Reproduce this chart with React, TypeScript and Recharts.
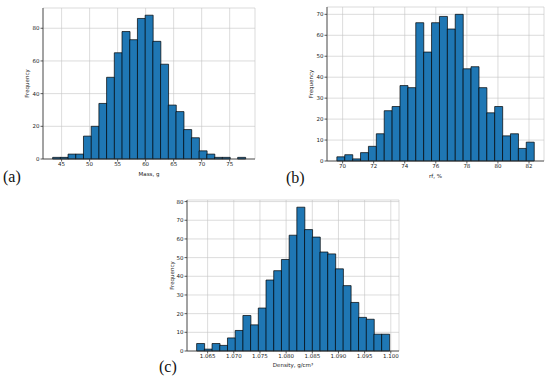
import { Bar, BarChart, CartesianGrid, Label, XAxis, YAxis } from "recharts";

// (a) mass histogram
const massStart = 43.4;
const massBin = 1.376;
const massCounts = [1, 1, 3, 3, 14, 20, 34, 50, 65, 78, 73, 86, 88, 72, 58, 33, 29, 18, 13, 5, 3, 1, 1, 0, 1];
const massTicks = [45, 50, 55, 60, 65, 70, 75];
const massYTicks = [0, 20, 40, 60, 80];

// (b) rf histogram
const rfStart = 69.63;
const rfBin = 0.508;
const rfCounts = [2, 3, 1, 4, 7, 13, 24, 26, 36, 35, 66, 52, 66, 69, 63, 70, 44, 45, 35, 23, 26, 12, 13, 6, 9];
const rfTicks = [70, 72, 74, 76, 78, 80, 82];
const rfYTicks = [0, 10, 20, 30, 40, 50, 60, 70];

// (c) density histogram
const denStart = 1.0629;
const denBin = 0.001473;
const denCounts = [4, 1, 4, 3, 7, 11, 19, 14, 23, 38, 43, 49, 62, 77, 65, 61, 53, 52, 44, 35, 26, 18, 17, 9, 9];
const denTicks = [1.065, 1.07, 1.075, 1.08, 1.085, 1.09, 1.095, 1.1];
const denYTicks = [0, 10, 20, 30, 40, 50, 60, 70, 80];

const font = "'DejaVu Sans', sans-serif";
const tickStyle = { fill: "#222", fontSize: 5.5, fontFamily: font };
const labelStyle = { fill: "#222", fontSize: 5.5, fontFamily: font, textAnchor: "middle" as const };
const frame = "#333";

function bins(start: number, width: number, counts: number[]) {
  return counts.map((count, i) => ({ x: start + (i + 0.5) * width, count }));
}

type HistProps = {
  left: number;
  top: number;
  width: number;
  height: number;
  margin: { top: number; right: number; bottom: number; left: number };
  yWidth: number;
  xHeight: number;
  start: number;
  bin: number;
  counts: number[];
  xTicks: number[];
  yTicks: number[];
  yMax: number;
  xLabel: string;
  yLabelOffset: number;
  xLabelOffset: number;
  fmt?: (v: number) => string;
};

function Histogram(p: HistProps) {
  const data = bins(p.start, p.bin, p.counts);
  const span = p.bin * p.counts.length;
  const pad = span * 0.05;
  const domain: [number, number] = [p.start - pad, p.start + span + pad];
  return (
    <div style={{ position: "absolute", left: p.left, top: p.top }}>
      <BarChart width={p.width} height={p.height} data={data} margin={p.margin} barCategoryGap={0} barGap={0}>
        <XAxis
          dataKey="x"
          type="number"
          domain={domain}
          allowDataOverflow
          ticks={p.xTicks}
          tickFormatter={p.fmt}
          interval={0}
          height={p.xHeight}
          tick={tickStyle}
          tickSize={2.5}
          tickMargin={1}
          stroke={frame}
          strokeWidth={0.8}
        >
          <Label value={p.xLabel} position="insideBottom" offset={p.xLabelOffset} style={labelStyle} />
        </XAxis>
        <XAxis xAxisId="top" orientation="top" type="number" domain={domain} allowDataOverflow tick={false} tickLine={false} height={0} stroke={frame} strokeWidth={0.8} />
        <YAxis
          domain={[0, p.yMax]}
          ticks={p.yTicks}
          interval={0}
          width={p.yWidth}
          tick={tickStyle}
          tickSize={2.5}
          tickMargin={1}
          stroke={frame}
          strokeWidth={0.8}
        >
          <Label value="Frequency" angle={-90} position="insideLeft" offset={p.yLabelOffset} style={labelStyle} />
        </YAxis>
        <YAxis yAxisId="right" orientation="right" domain={[0, p.yMax]} tick={false} tickLine={false} width={0} stroke={frame} strokeWidth={0.8} />
        <Bar dataKey="count" fill="#1f77b4" stroke="#000" strokeWidth={0.7} isAnimationActive={false} />
        <CartesianGrid stroke="#c4c4c4" strokeOpacity={0.75} strokeWidth={0.8} />
      </BarChart>
    </div>
  );
}

const panelStyle = {
  position: "absolute" as const,
  fontFamily: "'Liberation Serif', serif",
  fontSize: 16,
  lineHeight: "16px",
  color: "#111",
};

export default function App() {
  return (
    <div style={{ position: "absolute", left: 0, top: 0, width: 550, height: 382, background: "#fff" }}>
      <Histogram
        left={0}
        top={0}
        width={262}
        height={185}
        margin={{ top: 8, right: 7, bottom: 0, left: 0 }}
        yWidth={43}
        xHeight={26}
        start={massStart}
        bin={massBin}
        counts={massCounts}
        xTicks={massTicks}
        yTicks={massYTicks}
        yMax={92.4}
        xLabel="Mass, g"
        yLabelOffset={27}
        xLabelOffset={9}
      />
      <Histogram
        left={270}
        top={0}
        width={280}
        height={185}
        margin={{ top: 7, right: 6, bottom: 0, left: 0 }}
        yWidth={57}
        xHeight={24}
        start={rfStart}
        bin={rfBin}
        counts={rfCounts}
        xTicks={rfTicks}
        yTicks={rfYTicks}
        yMax={73.5}
        xLabel="rf, %"
        yLabelOffset={41}
        xLabelOffset={7}
      />
      <Histogram
        left={140}
        top={190}
        width={270}
        height={192}
        margin={{ top: 10, right: 11, bottom: 7, left: 0 }}
        yWidth={47}
        xHeight={24}
        start={denStart}
        bin={denBin}
        counts={denCounts}
        xTicks={denTicks}
        yTicks={denYTicks}
        yMax={80.85}
        xLabel="Density, g/cm³"
        yLabelOffset={32}
        xLabelOffset={8}
        fmt={(v) => v.toFixed(3)}
      />
      <div style={{ ...panelStyle, left: 3, top: 169 }}>(a)</div>
      <div style={{ ...panelStyle, left: 286, top: 170 }}>(b)</div>
      <div style={{ ...panelStyle, left: 159, top: 359 }}>(c)</div>
    </div>
  );
}
